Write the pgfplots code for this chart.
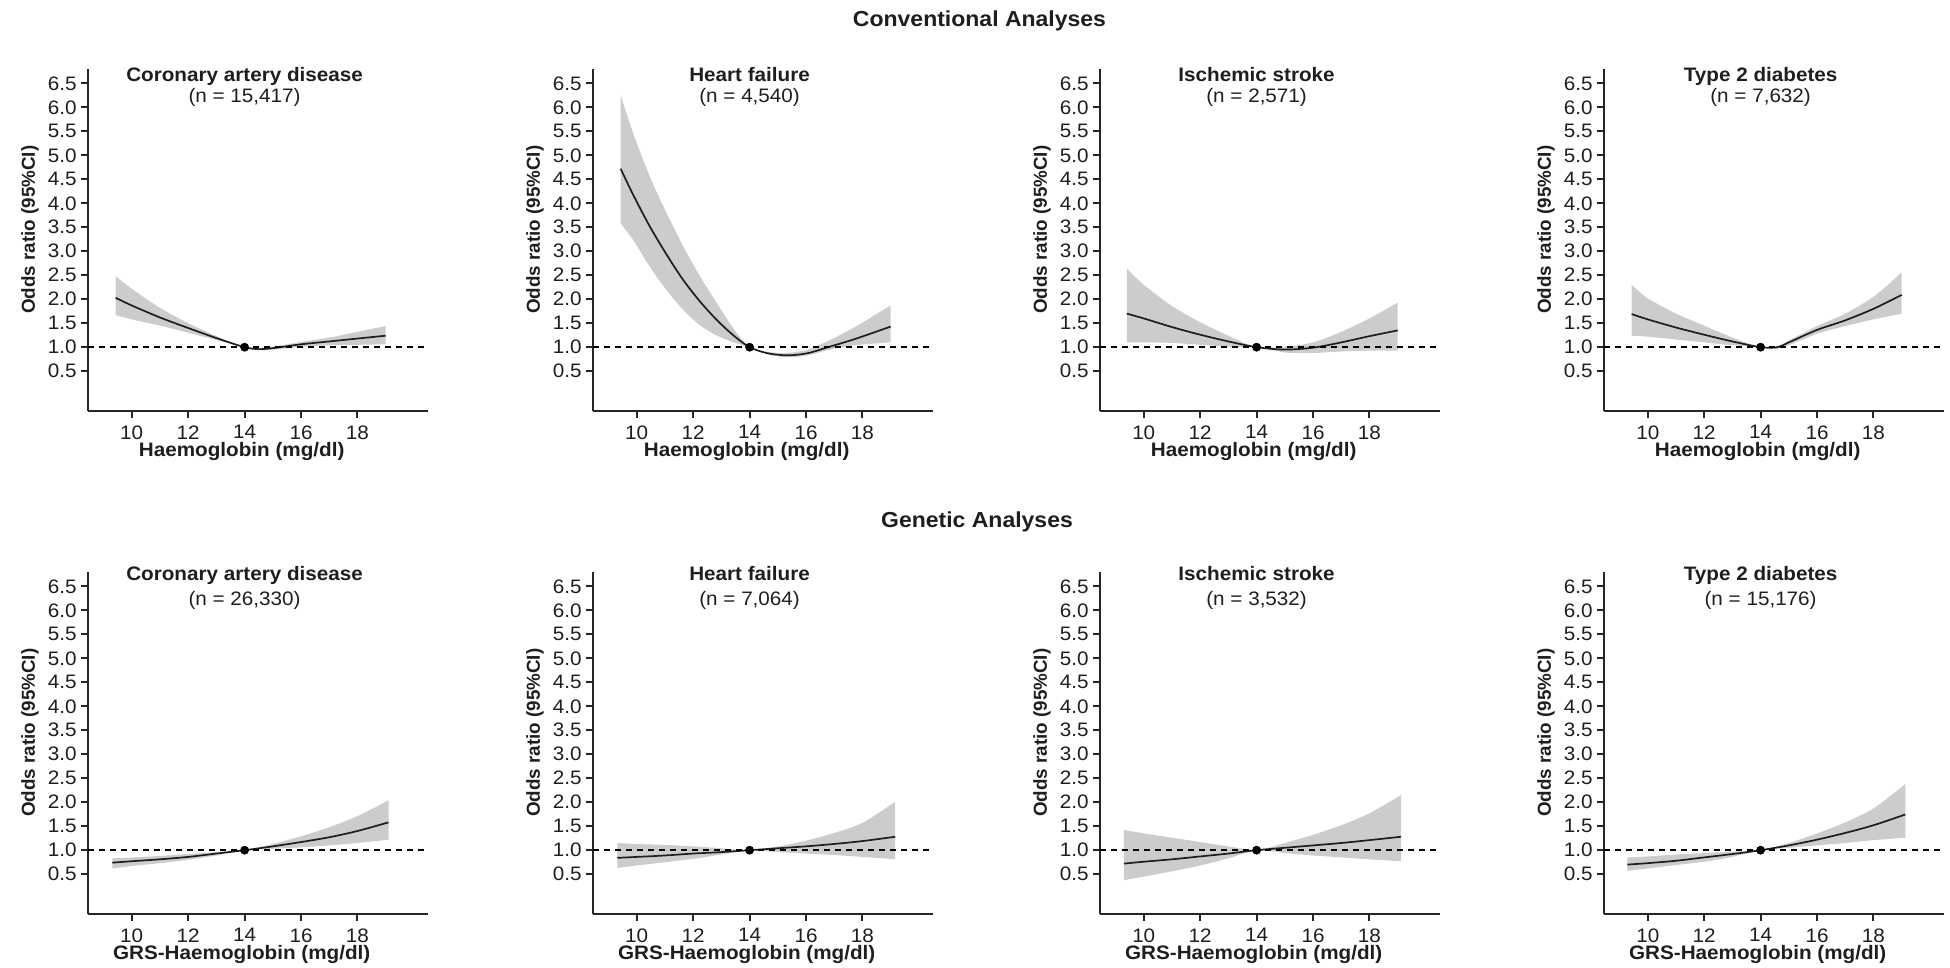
\documentclass[border=0pt]{standalone}
\usepackage{pgfplots}
\pgfplotsset{compat=1.18}
\usepackage{pgfplotstable}
\usepgfplotslibrary{fillbetween}
\usepackage{fontspec}
\setmainfont{Liberation Sans}[FakeStretch=1.06]
\newfontfamily\plainfont{Liberation Sans}
\definecolor{bandgray}{RGB}{204,204,204}
\definecolor{ink}{RGB}{30,30,30}
\newcommand\tf{\fontsize{9.75bp}{11bp}\selectfont}
\newcommand\hf{\fontsize{10.85bp}{12bp}\selectfont\bfseries}
\newcommand\yf{\plainfont\fontsize{9.4bp}{11bp}\selectfont\bfseries}

% Conventional analyses
\pgfplotstableread{
x y l u
9.43 2.03 1.67 2.48
10 1.87 1.58 2.22
11 1.62 1.45 1.82
12 1.40 1.30 1.50
13 1.19 1.15 1.23
14 1.00 1.00 1.00
14.5 0.96 0.94 0.98
15 0.98 0.95 1.01
16 1.06 1.01 1.11
17 1.12 1.04 1.20
18 1.18 1.05 1.32
19 1.24 1.06 1.44
}\cadc
\pgfplotstableread{
x y l u
9.43 4.72 3.58 6.25
9.88 4.17 3.23 5.45
10.47 3.51 2.67 4.55
11.07 2.92 2.18 3.78
11.66 2.39 1.77 3.09
12.26 1.94 1.45 2.46
12.85 1.56 1.24 1.91
13.44 1.24 1.10 1.38
14 1.00 1.00 1.00
14.63 0.875 0.85 0.90
15.35 0.83 0.79 0.88
16.06 0.875 0.83 0.95
16.78 1.00 0.94 1.13
17.73 1.17 1.04 1.42
19.0 1.43 1.10 1.87
}\hfc
\pgfplotstableread{
x y l u
9.4 1.70 1.10 2.64
10 1.60 1.10 2.30
11 1.42 1.09 1.86
12 1.26 1.05 1.52
13 1.12 1.01 1.24
14 1.00 1.00 1.00
15 0.95 0.89 1.01
16 0.99 0.88 1.10
17 1.10 0.91 1.32
18 1.23 0.93 1.60
19 1.35 0.93 1.93
}\isc
\pgfplotstableread{
x y l u
9.43 1.69 1.24 2.30
10 1.58 1.22 2.02
11 1.41 1.16 1.70
12 1.26 1.10 1.45
13 1.12 1.04 1.20
14 1.00 1.00 1.00
14.6 1.00 0.97 1.02
15 1.10 1.04 1.14
16 1.36 1.28 1.44
17 1.56 1.44 1.70
18 1.80 1.58 2.05
19 2.09 1.70 2.56
}\tdc
% Genetic analyses
\pgfplotstableread{
x y l u
9.31 0.74 0.62 0.83
10 0.77 0.67 0.85
11 0.81 0.73 0.88
12 0.86 0.80 0.92
13 0.93 0.89 0.96
14 1.00 1.00 1.00
15 1.08 1.03 1.13
16 1.17 1.06 1.29
17 1.27 1.10 1.48
18 1.40 1.15 1.71
19.1 1.58 1.22 2.04
}\cadg
\pgfplotstableread{
x y l u
9.31 0.84 0.63 1.15
10 0.86 0.68 1.13
11 0.89 0.75 1.11
12 0.93 0.82 1.08
13 0.96 0.91 1.04
14 1.00 1.00 1.00
15 1.04 0.96 1.08
16 1.08 0.93 1.20
17 1.13 0.90 1.36
18 1.19 0.86 1.57
19.16 1.28 0.81 2.01
}\hfg
\pgfplotstableread{
x y l u
9.3 0.72 0.375 1.42
10 0.76 0.45 1.35
11 0.81 0.56 1.26
12 0.87 0.68 1.17
13 0.93 0.83 1.08
14 1.00 1.00 1.00
15 1.05 0.94 1.15
16 1.10 0.89 1.32
17 1.15 0.85 1.52
18 1.21 0.81 1.77
19.12 1.28 0.77 2.15
}\isg
\pgfplotstableread{
x y l u
9.28 0.70 0.57 0.85
10 0.73 0.62 0.87
11 0.78 0.69 0.91
12 0.85 0.76 0.94
13 0.92 0.86 0.97
14 1.00 1.00 1.00
15 1.10 1.05 1.15
16 1.22 1.10 1.35
17 1.36 1.15 1.58
18 1.52 1.21 1.87
19.13 1.745 1.26 2.38
}\tdg

\tikzset{
  ttl/.style={font=\tf\bfseries, text=ink, anchor=base, inner sep=0pt},
  sub/.style={font=\tf, text=ink, anchor=base, inner sep=0pt},
}
\pgfplotsset{
  panel/.style={
    scale only axis, width=170bp, height=171bp,
    anchor=south west,
    xmin=8.45, xmax=20.5, ymin=-0.33, ymax=6.8,
    axis x line*=bottom, axis y line*=left,
    axis line style={line width=1bp, black!85},
    xtick={10,12,14,16,18},
    ytick={0.5,1,1.5,2,2.5,3,3.5,4,4.5,5,5.5,6,6.5},
    tick align=outside, major tick length=3.5bp,
    every tick/.style={line width=1bp, black!85},
    tick label style={font=\tf, text=ink},
    x tick label style={/pgf/number format/assume math mode=true, inner sep=3.5bp},
    y tick label style={/pgf/number format/.cd, fixed, fixed zerofill, precision=1, assume math mode=true, /tikz/inner sep=2bp},
    clip=false,
    every axis x label/.style={at={(axis description cs:0.452,-0.1316)}, anchor=base, inner sep=0pt, font=\tf\bfseries, text=ink},
    every axis y label/.style={at={(axis description cs:-0.156,0.53)}, anchor=base, inner sep=0pt, rotate=90, font=\yf, text=ink},
    ylabel={Odds ratio (95\%CI)},
  },
  ciband/.style={fill=bandgray, draw=none},
  fitline/.style={ink, line width=0.85bp, smooth, tension=0.5},
  refline/.style={black, line width=0.8bp, dash pattern=on 3bp off 2.5bp},
}

\begin{document}
\begin{tikzpicture}
\path (0,0) rectangle (975bp,484bp);

\node[font=\hf, text=ink, anchor=base, inner sep=0pt] at (489.75bp,470.6bp) {Conventional Analyses};
\node[font=\hf, text=ink, anchor=base, inner sep=0pt] at (488.5bp,220bp) {Genetic Analyses};

% ---------- Row 1 ----------
\begin{axis}[panel, at={(44bp,278.5bp)}, xlabel={Haemoglobin (mg/dl)}]
\addplot[name path=U, draw=none, smooth, tension=0.5] table[x=x,y=u]{\cadc};
\addplot[name path=L, draw=none, smooth, tension=0.5] table[x=x,y=l]{\cadc};
\addplot[ciband] fill between[of=U and L];
\addplot[fitline] table[x=x,y=y]{\cadc};
\addplot[refline] coordinates {(8.45,1) (20.5,1)};
\addplot[only marks, mark=*, mark size=2bp, black] coordinates {(14,1)};
\node[ttl] at (axis cs:14,6.54) {Coronary artery disease};
\node[sub] at (axis cs:14,6.11) {(n = 15,417)};
\end{axis}

\begin{axis}[panel, at={(296.5bp,278.5bp)}, xlabel={Haemoglobin (mg/dl)}]
\addplot[name path=U, draw=none, smooth, tension=0.5] table[x=x,y=u]{\hfc};
\addplot[name path=L, draw=none, smooth, tension=0.5] table[x=x,y=l]{\hfc};
\addplot[ciband] fill between[of=U and L];
\addplot[fitline] table[x=x,y=y]{\hfc};
\addplot[refline] coordinates {(8.45,1) (20.5,1)};
\addplot[only marks, mark=*, mark size=2bp, black] coordinates {(14,1)};
\node[ttl] at (axis cs:14,6.54) {Heart failure};
\node[sub] at (axis cs:14,6.11) {(n = 4,540)};
\end{axis}

\begin{axis}[panel, at={(550bp,278.5bp)}, xlabel={Haemoglobin (mg/dl)}]
\addplot[name path=U, draw=none, smooth, tension=0.5] table[x=x,y=u]{\isc};
\addplot[name path=L, draw=none, smooth, tension=0.5] table[x=x,y=l]{\isc};
\addplot[ciband] fill between[of=U and L];
\addplot[fitline] table[x=x,y=y]{\isc};
\addplot[refline] coordinates {(8.45,1) (20.5,1)};
\addplot[only marks, mark=*, mark size=2bp, black] coordinates {(14,1)};
\node[ttl] at (axis cs:14,6.54) {Ischemic stroke};
\node[sub] at (axis cs:14,6.11) {(n = 2,571)};
\end{axis}

\begin{axis}[panel, at={(802bp,278.5bp)}, xlabel={Haemoglobin (mg/dl)}]
\addplot[name path=U, draw=none, smooth, tension=0.5] table[x=x,y=u]{\tdc};
\addplot[name path=L, draw=none, smooth, tension=0.5] table[x=x,y=l]{\tdc};
\addplot[ciband] fill between[of=U and L];
\addplot[fitline] table[x=x,y=y]{\tdc};
\addplot[refline] coordinates {(8.45,1) (20.5,1)};
\addplot[only marks, mark=*, mark size=2bp, black] coordinates {(14,1)};
\node[ttl] at (axis cs:14,6.54) {Type 2 diabetes};
\node[sub] at (axis cs:14,6.11) {(n = 7,632)};
\end{axis}

% ---------- Row 2 ----------
\begin{axis}[panel, at={(44bp,27bp)}, xlabel={GRS-Haemoglobin (mg/dl)}]
\addplot[name path=U, draw=none, smooth, tension=0.5] table[x=x,y=u]{\cadg};
\addplot[name path=L, draw=none, smooth, tension=0.5] table[x=x,y=l]{\cadg};
\addplot[ciband] fill between[of=U and L];
\addplot[fitline] table[x=x,y=y]{\cadg};
\addplot[refline] coordinates {(8.45,1) (20.5,1)};
\addplot[only marks, mark=*, mark size=2bp, black] coordinates {(14,1)};
\node[ttl] at (axis cs:14,6.62) {Coronary artery disease};
\node[sub] at (axis cs:14,6.11) {(n = 26,330)};
\end{axis}

\begin{axis}[panel, at={(296.5bp,27bp)}, xlabel={GRS-Haemoglobin (mg/dl)}]
\addplot[name path=U, draw=none, smooth, tension=0.5] table[x=x,y=u]{\hfg};
\addplot[name path=L, draw=none, smooth, tension=0.5] table[x=x,y=l]{\hfg};
\addplot[ciband] fill between[of=U and L];
\addplot[fitline] table[x=x,y=y]{\hfg};
\addplot[refline] coordinates {(8.45,1) (20.5,1)};
\addplot[only marks, mark=*, mark size=2bp, black] coordinates {(14,1)};
\node[ttl] at (axis cs:14,6.62) {Heart failure};
\node[sub] at (axis cs:14,6.11) {(n = 7,064)};
\end{axis}

\begin{axis}[panel, at={(550bp,27bp)}, xlabel={GRS-Haemoglobin (mg/dl)}]
\addplot[name path=U, draw=none, smooth, tension=0.5] table[x=x,y=u]{\isg};
\addplot[name path=L, draw=none, smooth, tension=0.5] table[x=x,y=l]{\isg};
\addplot[ciband] fill between[of=U and L];
\addplot[fitline] table[x=x,y=y]{\isg};
\addplot[refline] coordinates {(8.45,1) (20.5,1)};
\addplot[only marks, mark=*, mark size=2bp, black] coordinates {(14,1)};
\node[ttl] at (axis cs:14,6.62) {Ischemic stroke};
\node[sub] at (axis cs:14,6.11) {(n = 3,532)};
\end{axis}

\begin{axis}[panel, at={(802bp,27bp)}, xlabel={GRS-Haemoglobin (mg/dl)}]
\addplot[name path=U, draw=none, smooth, tension=0.5] table[x=x,y=u]{\tdg};
\addplot[name path=L, draw=none, smooth, tension=0.5] table[x=x,y=l]{\tdg};
\addplot[ciband] fill between[of=U and L];
\addplot[fitline] table[x=x,y=y]{\tdg};
\addplot[refline] coordinates {(8.45,1) (20.5,1)};
\addplot[only marks, mark=*, mark size=2bp, black] coordinates {(14,1)};
\node[ttl] at (axis cs:14,6.62) {Type 2 diabetes};
\node[sub] at (axis cs:14,6.11) {(n = 15,176)};
\end{axis}
\end{tikzpicture}
\end{document}
